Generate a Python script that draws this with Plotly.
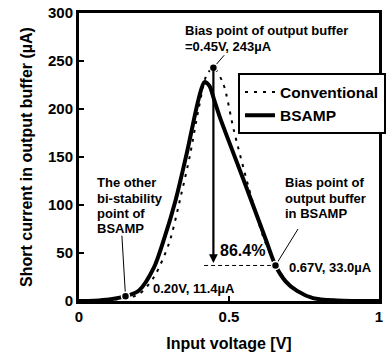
import plotly.graph_objects as go

# ---- data ----
conv_x = [0.0, 0.05, 0.10, 0.155, 0.20, 0.25, 0.30, 0.34, 0.37, 0.398, 0.425, 0.448, 0.48, 0.516, 0.565, 0.614, 0.655, 0.70, 0.75, 0.80, 0.90, 1.0]
conv_y = [0.0, 0.2, 1.0, 3.0, 7.0, 25.0, 60.0, 110.0, 152.0, 199.0, 235.0, 243.0, 227.0, 178.0, 119.0, 67.0, 38.0, 18.0, 7.0, 2.5, 0.4, 0.0]

bsamp_x = [0.0, 0.05, 0.10, 0.155, 0.20, 0.25, 0.286, 0.322, 0.36, 0.40, 0.418, 0.435, 0.45, 0.47, 0.50, 0.55, 0.60, 0.625, 0.655, 0.69, 0.727, 0.78, 0.86, 1.0]
bsamp_y = [0.0, 0.3, 1.5, 5.0, 11.0, 35.0, 67.0, 105.0, 155.0, 212.0, 228.0, 224.0, 210.0, 191.0, 166.0, 125.0, 83.0, 62.0, 37.0, 20.0, 10.5, 3.0, 0.6, 0.0]

conv_bias = (0.448, 243.0)
bsamp_other = (0.155, 5.0)
bsamp_bias = (0.655, 37.0)
arrow_end_y = 39.6

x_ticks = [0, 0.5, 1]
x_tick_text = ["0", "0.5", "1"]
y_ticks = [0, 50, 100, 150, 200, 250, 300]

FONT = "Liberation Sans, Arial, sans-serif"

fig = go.Figure()
fig.add_trace(go.Scatter(x=conv_x, y=conv_y, mode="lines", name="Conventional",
                         line=dict(color="black", width=2, dash="3px,6px", shape="spline", smoothing=0.8)))
fig.add_trace(go.Scatter(x=bsamp_x, y=bsamp_y, mode="lines", name="BSAMP",
                         line=dict(color="black", width=4, shape="spline", smoothing=0.8)))

# dashed horizontal reference
fig.add_trace(go.Scatter(x=[0.417, bsamp_bias[0]], y=[bsamp_bias[1], bsamp_bias[1]], mode="lines",
                         line=dict(color="black", width=1, dash="4px,3px"), showlegend=False))

# leader lines
leaders = [((0.484, 256.0), conv_bias), ((0.730, 75.0), bsamp_bias), ((0.143, 68.0), bsamp_other)]
for (a, b) in leaders:
    fig.add_trace(go.Scatter(x=[a[0], b[0]], y=[a[1], b[1]], mode="lines",
                             line=dict(color="black", width=1), showlegend=False))

# points
fig.add_trace(go.Scatter(x=[conv_bias[0], bsamp_other[0], bsamp_bias[0]],
                         y=[conv_bias[1], bsamp_other[1], bsamp_bias[1]], mode="markers",
                         marker=dict(color="black", size=8, line=dict(color="white", width=1.5)),
                         showlegend=False))

# arrow
fig.add_annotation(x=conv_bias[0], y=arrow_end_y, ax=conv_bias[0], ay=conv_bias[1],
                   xref="x", yref="y", axref="x", ayref="y", text="", showarrow=True,
                   arrowhead=2, arrowsize=0.8, arrowwidth=2.2, arrowcolor="black", standoff=0, startstandoff=0)

def txt(x, y, s, size=13):
    fig.add_annotation(x=x, y=y, xref="x", yref="y", text=s, showarrow=False,
                       xanchor="left", yanchor="middle",
                       font=dict(family=FONT, size=size, color="black", weight="bold"))

txt(0.345, 282, "Bias point of output buffer")
txt(0.345, 264.6, "=0.45V, 243µA")
for i, s in enumerate(["The other", "bi-stability", "point of", "BSAMP"]):
    txt(0.052, (301 - [182, 198, 213, 228][i]) / 0.96, s)
for i, s in enumerate(["Bias point of", "output buffer", "in BSAMP"]):
    txt(0.681, (301 - [182, 198, 213][i]) / 0.96, s)
txt(0.241, 13.5, "0.20V, 11.4µA")
txt(0.694, 35.4, "0.67V, 33.0µA")
txt(0.462, 53, "86.4%", size=16)

fig.update_layout(
    width=388, height=355,
    margin=dict(l=79, r=2, t=13, b=54),
    paper_bgcolor="white", plot_bgcolor="white",
    font=dict(family=FONT, color="black", weight="bold"),
    showlegend=True,
    legend=dict(x=0.53, y=0.79, xanchor="left", yanchor="top",
                bgcolor="white", bordercolor="black", borderwidth=2,
                font=dict(family=FONT, size=15.5, color="black", weight="bold"),
                itemwidth=30, tracegroupgap=0),
)
fig.update_xaxes(range=[0, 1], tickvals=x_ticks, ticktext=x_tick_text, automargin=False,
                 showline=True, linewidth=3, linecolor="black", mirror=True,
                 ticks="inside", ticklen=5, tickwidth=2, tickcolor="black",
                 showgrid=False, zeroline=False,
                 tickfont=dict(family=FONT, size=15, color="black", weight="bold"),
                 title=dict(text="Input voltage [V]", standoff=14,
                            font=dict(family=FONT, size=16, color="black", weight="bold")))
fig.update_yaxes(range=[0, 300], tickvals=y_ticks, automargin=False,
                 showline=True, linewidth=3, linecolor="black", mirror=True,
                 ticks="inside", ticklen=5, tickwidth=2, tickcolor="black",
                 showgrid=False, zeroline=False,
                 tickfont=dict(family=FONT, size=15, color="black", weight="bold"),
                 title=dict(text="Short current in output buffer (µA)", standoff=12,
                            font=dict(family=FONT, size=16, color="black", weight="bold")))

fig.write_html("out.html")
